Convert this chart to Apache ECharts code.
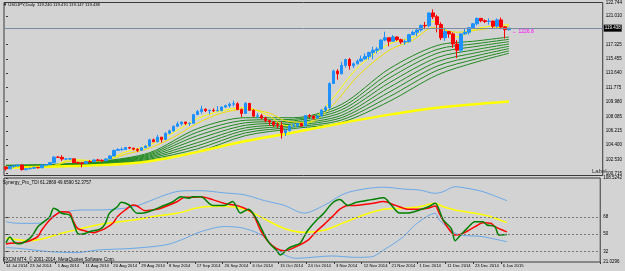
<!DOCTYPE html>
<html>
<head>
<meta charset="utf-8">
<script src="https://cdn.jsdelivr.net/npm/echarts@6/dist/echarts.min.js"></script>
<style>
html,body{margin:0;padding:0;background:#d3d3d3;}
#chart{width:625px;height:271px;}
</style>
</head>
<body>
<div id="chart"></div>
<script>
// USDJPY daily candles: [open, close, low, high]
var candles = [
[101.55,101.32,101.07,101.65],[101.32,101.62,101.30,101.67],[101.62,101.70,101.45,101.80],[101.70,101.80,101.55,101.85],
[101.80,101.22,101.08,101.85],[101.22,101.33,101.10,101.40],[101.33,101.40,101.23,101.45],[101.40,101.50,101.30,101.57],
[101.50,101.45,101.37,101.55],[101.45,101.80,101.40,101.84],[101.80,101.85,101.70,101.90],[101.85,102.12,101.80,102.18],
[102.12,102.82,102.05,102.97],[102.82,102.80,102.72,102.97],[102.80,102.58,102.34,103.08],[102.58,102.58,102.42,102.68],
[102.58,102.60,102.50,102.71],[102.60,102.11,102.08,102.68],[102.11,102.07,101.95,102.24],[102.07,102.02,101.50,102.17],
[102.02,102.25,101.95,102.30],[102.25,102.23,102.18,102.44],[102.23,102.46,102.20,102.52],[102.46,102.41,102.30,102.60],
[102.41,102.37,102.17,102.55],[102.37,102.58,102.35,102.68],[102.58,102.98,102.55,103.05],[102.98,103.70,102.93,103.76],
[103.70,103.80,103.68,103.98],[103.80,103.82,103.66,104.06],[103.82,104.07,103.80,104.10],[104.07,103.99,103.86,104.13],
[103.99,103.85,103.70,104.00],[103.85,103.70,103.46,103.95],[103.70,104.04,103.68,104.08],[104.04,104.25,104.02,104.35],
[104.25,105.05,104.23,105.20],[105.05,104.80,104.78,105.22],[104.80,105.40,104.73,105.70],[105.40,105.10,104.70,105.40],
[105.10,105.90,105.05,106.00],[105.90,106.20,105.75,106.38],[106.20,106.80,106.10,106.90],[106.80,107.10,106.75,107.40],
[107.10,107.35,106.90,107.38],[107.35,107.15,106.98,107.36],[107.15,107.20,106.85,107.28],[107.20,108.30,107.10,108.40],
[108.30,108.70,108.25,108.90],[108.70,109.00,108.40,109.45],[109.00,108.80,108.65,109.10],[108.80,108.85,108.35,108.95],
[108.85,108.80,108.65,109.10],[108.80,108.82,108.70,109.40],[108.82,109.28,108.75,109.35],[109.28,109.45,109.15,109.60],
[109.45,109.65,109.20,109.85],[109.65,109.70,109.35,110.09],[109.70,108.95,108.90,109.90],[108.95,108.45,108.00,109.10],
[108.45,109.75,108.40,109.90],[109.75,108.85,108.80,109.80],[108.85,108.10,108.00,109.00],[108.10,108.15,107.80,108.50],
[108.15,107.85,107.70,108.40],[107.85,107.55,107.30,108.05],[107.55,107.35,106.85,107.60],[107.35,107.00,106.70,107.45],
[107.00,106.90,106.55,107.30],[106.90,105.95,105.20,107.40],[105.95,106.25,105.55,106.45],[106.25,106.88,106.10,106.95],
[106.88,106.90,106.70,107.20],[106.90,107.15,106.65,107.25],[107.15,106.85,106.75,107.25],[106.85,108.18,106.80,108.20],
[108.18,108.10,107.85,108.38],[108.10,107.82,107.65,108.20],[107.82,108.13,107.80,108.20],[108.13,108.90,108.05,109.00],
[108.90,109.20,108.70,109.45],[109.20,112.30,109.05,112.45],[112.30,113.90,112.25,114.10],[113.90,113.55,112.80,114.15],
[113.55,114.65,113.50,115.10],[114.65,115.40,114.35,115.50],[115.40,114.60,114.10,115.60],[114.60,114.85,114.30,115.00],
[114.85,115.20,114.75,115.40],[115.20,115.48,115.10,115.90],[115.48,115.80,115.35,116.20],[115.80,116.30,115.40,116.40],
[116.30,116.60,115.45,117.05],[116.60,116.75,116.20,117.00],[116.75,117.90,116.70,118.00],[117.90,118.20,117.75,118.98],
[118.20,117.75,117.10,118.30],[117.75,118.30,117.70,118.55],[118.30,117.95,117.80,118.40],[117.95,117.65,117.40,118.10],
[117.65,117.70,117.30,118.00],[117.70,118.60,117.60,118.70],[118.60,118.90,118.55,119.10],[118.90,119.20,118.40,119.30],
[119.20,119.80,119.00,119.90],[119.80,119.75,119.30,120.25],[119.75,121.40,119.55,121.45],[121.40,120.90,120.60,121.85],
[120.90,119.90,118.90,121.15],[119.90,118.20,117.90,120.20],[118.20,119.00,117.80,119.50],[119.00,118.70,118.20,119.05],
[118.70,117.40,116.90,118.90],[117.40,116.60,115.57,117.90],[116.60,118.70,116.40,118.80],[118.70,118.90,118.60,119.40],
[118.90,119.50,118.60,119.55],[119.50,120.00,119.40,120.10],[120.00,120.70,119.80,120.80],[120.70,120.40,120.20,120.75],
[120.40,120.30,120.10,120.55],[120.30,120.35,119.90,120.70],[120.35,119.70,119.30,120.40],[119.70,120.50,119.50,120.70],
[120.50,119.60,119.30,120.80],[119.60,119.24,118.10,119.70],[119.24,119.438,119.147,119.47]
];

// date labels on the time axis and the bar index each one sits on
var dateLabels = ['14 Jul 2014','23 Jul 2014','1 Aug 2014','11 Aug 2014','20 Aug 2014','29 Aug 2014','8 Sep 2014',
  '17 Sep 2014','26 Sep 2014','6 Oct 2014','15 Oct 2014','24 Oct 2014','3 Nov 2014','12 Nov 2014','21 Nov 2014',
  '1 Dec 2014','11 Dec 2014','23 Dec 2014','6 Jan 2015'];
var dateIdx = [0,6,13,20,27,34,41,48,55,62,69,76,83,90,97,104,111,118,125];

// price scale labels
var priceTicks = [122.744,121.010,117.325,115.455,113.640,111.775,109.980,108.085,106.215,104.400,102.530,100.715];
var lastClose = 119.438;

// moving average ribbon (green), read at these bar indices, top line first
var ribbonAt = [0,12,24,36,48,60,72,84,96,108,118,126];
var ribbon = [
[101.78,101.90,102.30,103.40,106.50,107.90,107.90,109.60,114.20,117.20,117.80,118.30],
[101.75,101.86,102.24,103.26,106.05,107.57,107.70,109.25,113.60,116.70,117.45,118.00],
[101.72,101.82,102.18,103.12,105.60,107.25,107.50,108.90,113.00,116.20,117.10,117.70],
[101.69,101.78,102.12,102.98,105.15,106.93,107.30,108.55,112.40,115.65,116.70,117.40],
[101.66,101.74,102.06,102.84,104.70,106.60,107.10,108.20,111.80,115.10,116.30,117.10],
[101.63,101.70,102.00,102.70,104.30,106.28,106.90,107.90,111.20,114.55,115.90,116.80],
[101.60,101.66,101.94,102.56,103.90,105.95,106.70,107.60,110.60,114.00,115.50,116.50],
[101.57,101.62,101.88,102.42,103.50,105.60,106.50,107.30,110.00,113.40,115.10,116.20]
];

// slow yellow average
var slowMa = [[0,101.45],[24,101.80],[36,102.30],[48,103.50],[60,104.90],[72,106.00],[84,107.20],[96,108.30],[108,109.20],[126,110.00]];
// two fast yellow averages
var fastMa1 = [[0,101.55],[12,101.75],[16,102.50],[24,102.35],[30,103.50],[36,104.40],[42,106.00],[48,107.80],[54,108.80],[60,109.20],[66,108.10],[70,106.90],[76,107.30],[82,110.50],[88,114.30],[96,117.40],[102,118.30],[107,120.30],[113,118.30],[118,119.40],[126,119.90]];
var fastMa2 = [[0,101.55],[12,101.70],[16,102.30],[24,102.35],[30,103.20],[36,104.00],[42,105.40],[48,107.20],[54,108.50],[60,109.00],[66,108.50],[70,107.50],[76,107.30],[82,109.60],[88,113.20],[96,116.60],[102,117.90],[107,119.50],[113,118.90],[118,119.20],[126,119.70]];

// Synergy TDI lines
var tdiGreen = [[0,41],[1,47],[2,42],[3,40],[4,40.5],[6,45.7],[7,50.9],[8,57.8],[9,61.3],[11,68.2],[12,77],[13,75.2],[14,71.8],[16,70],[17,61.3],[18,50.9],[19,49.9],[20,50.9],[21,52.6],[23,54.4],[24,56.1],[25,61.3],[26,71.7],[28,78.6],[29,83.2],[31,80.4],[32,75.2],[33,71.7],[35,72.4],[37,75.2],[39,78.6],[42,83.8],[44,89],[46,87.4],[47,89],[49,89],[52,80],[55,80],[57,84],[59,72],[61,76],[63,66],[66,42],[68,33.5],[69,28.3],[71,35.3],[73,38.7],[74,40.5],[75,47.4],[76,54.3],[78,64],[80,72],[82,82],[84,86],[86,80],[88,83],[92,86],[95,88],[97,80],[99,72],[101,72],[104,75.2],[106,78],[108,82.1],[109,75.2],[110,64.8],[112,56.1],[113,43.2],[114,47.4],[116,56.1],[118,63],[120,63],[121,59.6],[123,57.8],[124,49.2],[126,49.7]];
var tdiRed = [[0,39.8],[1,40.5],[4,41.1],[6,43.2],[8,47.4],[9,54.3],[11,64.8],[13,71.7],[14,73.4],[16,72.4],[17,63],[18,56.1],[20,53.3],[22,51.5],[23,52.6],[25,56.1],[27,61.9],[28,68.2],[30,75.2],[32,80.4],[33,79.4],[35,74.5],[38,75.9],[40,78.6],[43,83.8],[45,88.4],[47,88.4],[49,89],[52,86],[55,82],[58,80],[60,77],[62,72],[64,54.3],[66,42.2],[68,35.3],[70,32.8],[73,37],[76,43.9],[78,52.6],[80,60],[82,68],[84,76],[86,80],[88,80],[92,82],[95,84],[98,80],[101,76],[104,75.9],[106,77],[108,79.3],[109,71.7],[111,57.8],[113,49.2],[115,50.9],[118,57.8],[120,62],[122,61.3],[123,57.8],[126,52.4]];
var tdiYellow = [[0,45.7],[6,43.2],[15,52],[23,59.6],[32,64.8],[38,68.9],[43,71.7],[49,78],[55,79],[60,76],[65,66],[70,56],[75,52],[80,54],[85,62],[90,70],[95,76],[100,77],[104,78.6],[108,82.1],[110,78.6],[113,75.2],[118,71.7],[122,68.2],[126,62]];
var tdiUpper = [[0,63],[3,61.3],[8,61.3],[13,71.7],[15,73.4],[19,75.2],[23,75.2],[32,78.6],[40,90.8],[44,95],[49,95.3],[55,93],[60,91],[65,85],[70,80],[75,72],[80,80],[85,92],[90,97],[95,99],[100,97],[104,96],[108,92.6],[110,94.3],[113,99.5],[116,97.8],[120,94.3],[126,84.9]];
var tdiLower = [[0,36],[3,35.3],[11,31.8],[18,30.8],[23,33.5],[32,35.3],[40,38.7],[44,43.9],[49,52.6],[55,58],[60,56],[65,47.4],[68,33.5],[73,24.9],[82,27.3],[88,25.9],[92,26.5],[95,33.5],[100,47.4],[103,60],[108,71.7],[109,64.8],[112,54.3],[114,49.2],[118,48.1],[120,47.4],[126,42.2]];
var tdiLevels = [68, 50, 32];
var tdiTicks = [108.5242, 68, 50, 32, 21.0296];

var N = 150;
var cats = [];
for (var i = 0; i < N; i++) {
  var k = dateIdx.indexOf(i);
  cats.push(k >= 0 ? dateLabels[k] : '');
}

var FONT = 'Liberation Sans';
var myChart = echarts.init(document.getElementById('chart'));

var series = [];
ribbon.forEach(function (line, n) {
  series.push({
    type: 'line', xAxisIndex: 2, yAxisIndex: 0, symbol: 'none', smooth: 0.3, silent: true, z: 1,
    lineStyle: { color: '#1f8a1f', width: 1 },
    data: line.map(function (v, j) { return [ribbonAt[j], v]; })
  });
});
series.push({ type: 'line', xAxisIndex: 2, yAxisIndex: 0, symbol: 'none', smooth: 0.3, z: 2,
  lineStyle: { color: '#ffff00', width: 2.5 }, data: slowMa });
series.push({ type: 'line', xAxisIndex: 2, yAxisIndex: 0, symbol: 'none', smooth: 0.3, z: 2,
  lineStyle: { color: '#ffff00', width: 1 }, data: fastMa1 });
series.push({ type: 'line', xAxisIndex: 2, yAxisIndex: 0, symbol: 'none', smooth: 0.3, z: 2,
  lineStyle: { color: '#f0e000', width: 1 }, data: fastMa2 });
series.push({
  type: 'candlestick', xAxisIndex: 0, yAxisIndex: 0, barWidth: 3, z: 3,
  itemStyle: { color: '#1e90ff', color0: '#ff0000', borderColor: '#1e90ff', borderColor0: '#ff0000', borderWidth: 1 },
  data: candles,
  markLine: {
    silent: true, symbol: 'none', animation: false,
    lineStyle: { color: '#7a8ca3', type: 'solid', width: 1 },
    label: { position: 'end', distance: 1, formatter: lastClose.toFixed(3), color: '#ffffff',
      backgroundColor: '#000000', fontSize: 4.5, fontFamily: FONT, padding: [1, 1] },
    data: [{ yAxis: lastClose }]
  }
});

// TDI panel
series.push({ type: 'line', xAxisIndex: 3, yAxisIndex: 1, symbol: 'none', smooth: 0.3,
  lineStyle: { color: '#6aa9e9', width: 1 }, data: tdiUpper,
  markLine: { silent: true, symbol: 'none', animation: false, label: { show: false },
    lineStyle: { color: '#7a7a7a', type: [2, 2], width: 1 },
    data: tdiLevels.map(function (v) { return { yAxis: v }; }) } });
series.push({ type: 'line', xAxisIndex: 3, yAxisIndex: 1, symbol: 'none', smooth: 0.3,
  lineStyle: { color: '#6aa9e9', width: 1 }, data: tdiLower });
series.push({ type: 'line', xAxisIndex: 3, yAxisIndex: 1, symbol: 'none', smooth: 0.3,
  lineStyle: { color: '#ffff00', width: 1.5 }, data: tdiYellow });
series.push({ type: 'line', xAxisIndex: 3, yAxisIndex: 1, symbol: 'none', smooth: 0.3,
  lineStyle: { color: '#ff0000', width: 1.5 }, data: tdiRed });
series.push({ type: 'line', xAxisIndex: 3, yAxisIndex: 1, symbol: 'none', smooth: 0.3,
  lineStyle: { color: '#008000', width: 1.5 }, data: tdiGreen });

var option = {
  animation: false,
  backgroundColor: '#d3d3d3',
  grid: [
    { left: 4, width: 602, top: 1.5, height: 174, show: true, borderColor: '#3a3a3a', borderWidth: 1 },
    { left: 4, width: 602, top: 178, height: 84, show: true, borderColor: '#3a3a3a', borderWidth: 1 }
  ],
  xAxis: [
    { type: 'category', gridIndex: 0, data: cats, boundaryGap: true,
      axisLine: { show: false }, axisTick: { show: false }, axisLabel: { show: false } },
    { type: 'category', gridIndex: 1, data: cats, boundaryGap: true,
      axisLine: { show: false },
      axisTick: { show: true, length: 2, interval: function (i) { return cats[i] !== ''; }, lineStyle: { color: '#3a3a3a' } },
      axisLabel: { interval: 0, align: 'left', margin: 2, fontSize: 4.2, fontFamily: FONT, color: '#000' } },
    { type: 'value', gridIndex: 0, min: -0.5, max: N - 0.5, show: false },
    { type: 'value', gridIndex: 1, min: -0.5, max: N - 0.5, show: false }
  ],
  yAxis: [
    { type: 'value', gridIndex: 0, position: 'right', min: 100.458, max: 122.744,
      splitLine: { show: false }, axisLine: { show: false },
      axisTick: { show: true, length: 2, customValues: priceTicks, lineStyle: { color: '#3a3a3a' } },
      axisLabel: { customValues: priceTicks, margin: 3, fontSize: 4.5, fontFamily: FONT, color: '#000',
        formatter: function (v) { return v.toFixed(3); } } },
    { type: 'value', gridIndex: 1, position: 'right', min: 21.0296, max: 108.5242,
      splitLine: { show: false }, axisLine: { show: false },
      axisTick: { show: true, length: 2, customValues: tdiTicks, lineStyle: { color: '#3a3a3a' } },
      axisLabel: { customValues: tdiTicks, margin: 3, fontSize: 4.5, fontFamily: FONT, color: '#000',
        formatter: function (v) { return Number.isInteger(v) ? String(v) : v.toFixed(4); } } }
  ],
  graphic: [
    { type: 'text', left: 3, top: 3, style: { text: '\u25BC USDJPY,Daily  119.240 119.470 119.147 119.438', fontSize: 4.2, fontFamily: FONT, fill: '#000' } },
    { type: 'text', left: 512, top: 29, style: { text: '\u2190 1226.8', fontSize: 5, fontFamily: FONT, fill: '#ff00ff' } },
    { type: 'text', left: 592, top: 168, style: { text: 'Label', fontSize: 6, fontFamily: FONT, fill: '#303030' } },
    { type: 'text', left: 3, top: 180, style: { text: 'Synergy_Pro_TDI 61.2869 49.6590 52.3757', fontSize: 4.5, fontFamily: FONT, fill: '#000' } },
    { type: 'text', left: 3, top: 257, style: { text: 'FXCM MT4, \u00A9 2001-2014, MetaQuotes Software Corp.', fontSize: 4.6, fontFamily: FONT, fill: '#000' } }
  ],
  series: series
};
myChart.setOption(option, true);
</script>
</body>
</html>
